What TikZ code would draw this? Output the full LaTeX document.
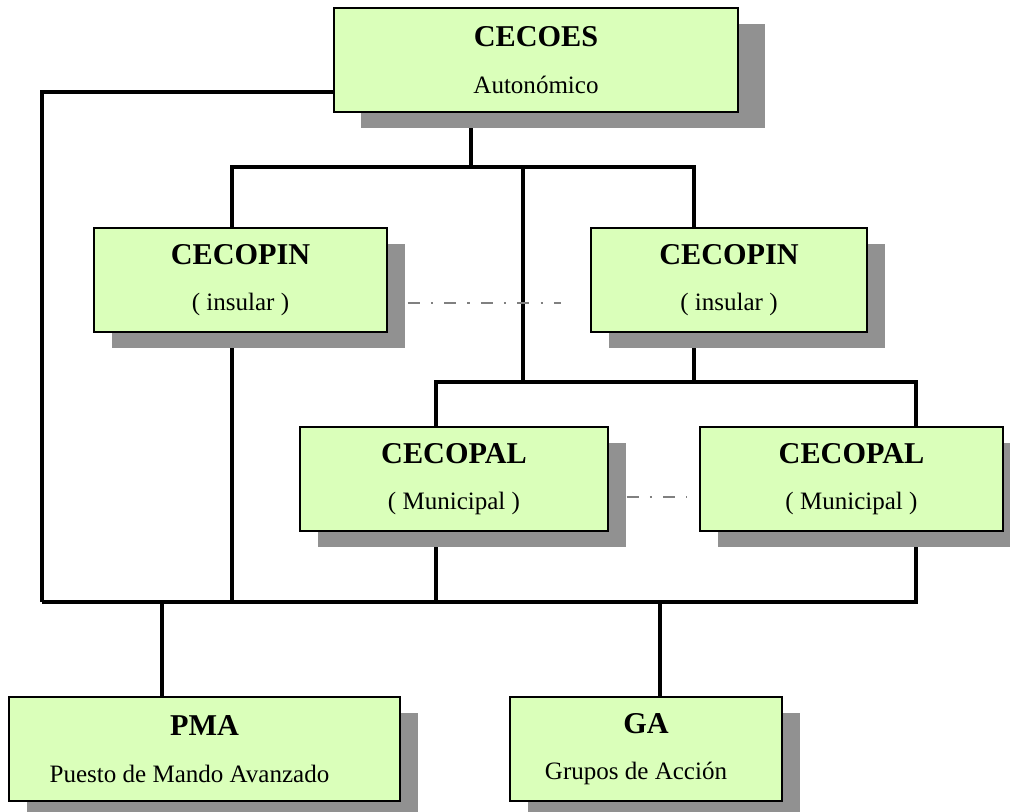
\documentclass[tikz,border=0pt]{standalone}
\usepackage{fontspec}
\setmainfont{Liberation Serif}
\usetikzlibrary{shadows,backgrounds}

\definecolor{boxgreen}{RGB}{218,255,186}
\definecolor{shadowgray}{RGB}{145,145,145}
\newcommand{\boxtitle}[1]{{\fontsize{21.5}{33}\selectfont\bfseries #1}}

\tikzset{
  cbox/.style={draw, line width=2.1pt, fill=boxgreen, minimum height=2.6cm,
    inner sep=0pt, align=center, font=\fontsize{17.8}{33}\selectfont,
    drop shadow={shadow xshift=#1, shadow yshift=-0.39cm, fill=shadowgray, opacity=1}},
  cbox/.default=0.46cm,
  link/.style={line width=2.2pt},
  trunk/.style={line width=3pt, line join=miter},
  peer/.style={gray, line width=0.8pt, dash pattern=on 8.5pt off 8pt on 1.5pt off 8pt}
}

\begin{document}
\begin{tikzpicture}
\useasboundingbox (0,0) rectangle (25.25,-20.3);

\node[cbox=0.68cm, minimum width=10.1cm] (cecoes) at(13.4,-1.5){\boxtitle{CECOES}\\Autonómico};
\node[cbox, minimum width=7.325cm] (cecopinL) at(6.0125,-7.0){\boxtitle{CECOPIN}\\( insular )};
\node[cbox, minimum width=6.9cm] (cecopinR) at(18.225,-7.0){\boxtitle{CECOPIN}\\( insular )};
\node[cbox, minimum width=7.7cm] (cecopalL) at(11.35,-11.975){\boxtitle{CECOPAL}\\( Municipal )};
\node[cbox, minimum width=7.575cm] (cecopalR) at(21.2875,-11.975){\boxtitle{CECOPAL}\\( Municipal )};
\node[cbox, minimum width=9.775cm] (pma) at(5.1125,-18.725){\boxtitle{PMA}\\Puesto de Mando Avanzado\hspace*{0.75cm}};
\node[cbox, minimum width=6.8cm] (ga) at(16.15,-18.725){\boxtitle{GA}\\Grupos de Acción\hspace*{0.5cm}};

% junctions
\coordinate (lt) at (1.05,-2.3);
\coordinate (tL) at (5.8,-4.175);
\coordinate (tM) at (13.075,-4.175);
\coordinate (tR) at (17.35,-4.175);
\coordinate (mL) at (10.9,-9.55);
\coordinate (mR) at (22.9,-9.55);
\coordinate (bL) at (1.05,-15.05);
\coordinate (bR) at (22.9,-15.05);
\coordinate (pmaj) at (4.05,-15.05);
\coordinate (gaj) at (16.5,-15.05);
\coordinate (cs) at ([xshift=-1.625cm]cecoes.south);

\begin{scope}[on background layer]
\draw[link] (lt -| cecoes.west) -- (lt) -- (bL);
\draw[trunk] (bL) -- (bR) -- (bR |- cecopalR.south);
\draw[link] (cs) -- (cs |- tM);
\draw[trunk] (tL |- cecopinL.north) -- (tL) -- (tR) -- (tR |- cecopinR.north);
\draw[trunk] (tM) -- (tM |- mL);
\draw[trunk] (mL |- cecopalL.north) -- (mL) -- (mR) -- (mR |- cecopalR.north);
\draw[link] (tR |- cecopinR.south) -- (tR |- mL);
\draw[trunk] (tL |- cecopinL.south) -- (tL |- bL);
\draw[link] (mL |- cecopalL.south) -- (mL |- bL);
\draw[link] (pmaj) -- (pmaj |- pma.north);
\draw[trunk] (gaj) -- (gaj |- ga.north);
\end{scope}

% same-level links
\draw[peer] ([xshift=0.48cm,yshift=-0.575cm]cecopinL.east) -- ([xshift=-0.72cm,yshift=-0.575cm]cecopinR.west);
\draw[peer] ([xshift=0.43cm,yshift=-0.45cm]cecopalL.east) -- ([xshift=-0.3cm,yshift=-0.45cm]cecopalR.west);

\end{tikzpicture}
\end{document}
